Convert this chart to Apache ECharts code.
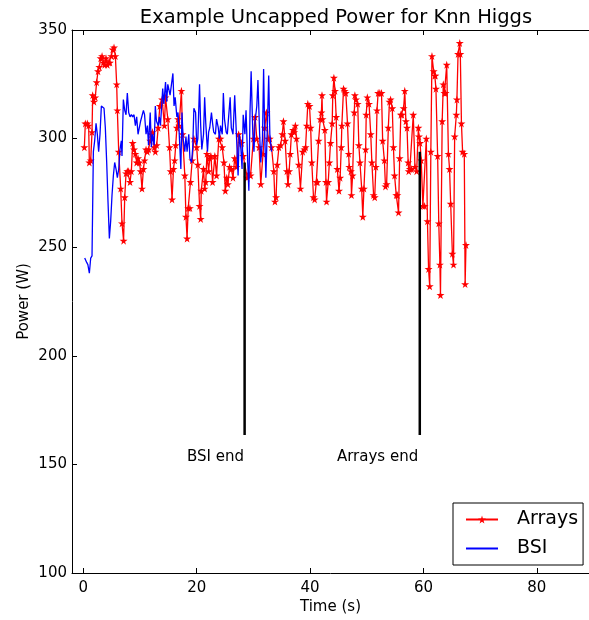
<!DOCTYPE html>
<html>
<head>
<meta charset="utf-8">
<script src="https://cdn.jsdelivr.net/npm/echarts@6.0.0/dist/echarts.min.js"></script>
<style>
  html, body { margin: 0; padding: 0; background: #fff; }
  #main { width: 589px; height: 620px; }
</style>
</head>
<body>
<div id="main"></div>
<script>
var xTicks = [0, 20, 40, 60, 80];
var yTicks = [100, 150, 200, 250, 300, 350];

// Arrays run: [time (s), power (W)]
var arraysData = [
    [0.18, 296], [0.35, 307], [0.7, 307], [0.94, 306], [1.06, 289], [1.3, 290], [1.53, 303], [1.65, 320],
    [1.88, 317], [2.1, 319], [2.35, 326], [2.59, 331], [2.82, 333], [3.06, 337], [3.3, 338], [3.53, 335],
    [3.77, 334], [4.0, 337], [4.24, 334], [4.47, 335], [4.7, 335], [4.94, 338], [5.18, 341], [5.41, 342],
    [5.65, 338], [5.88, 325], [6.0, 313], [6.24, 294], [6.59, 277], [6.82, 261], [7.1, 253], [7.3, 273],
    [7.53, 284], [7.76, 285], [8.0, 285], [8.24, 280], [8.47, 285], [8.7, 298], [8.94, 295], [9.18, 293],
    [9.41, 289], [9.65, 291], [9.88, 289], [10.1, 285], [10.35, 277], [10.6, 286], [10.8, 290], [11.06, 295],
    [11.3, 294], [11.5, 295], [11.8, 299], [12.0, 302], [12.2, 303], [12.5, 296], [12.7, 294], [12.94, 297],
    [13.2, 305], [13.5, 315], [13.9, 318], [14.3, 306], [14.5, 319], [14.9, 309], [15.2, 296], [15.4, 285],
    [15.65, 272], [15.9, 286], [16.1, 290], [16.3, 297], [16.5, 305], [16.7, 309], [16.9, 306], [17.3, 322],
    [17.5, 302], [17.9, 283], [18.1, 264], [18.3, 254], [18.5, 268], [18.8, 268], [18.9, 280], [19.2, 290],
    [19.5, 300], [20.0, 296], [20.2, 288], [20.5, 269], [20.7, 263], [20.8, 276], [21.2, 286], [21.4, 277],
    [21.6, 280], [21.8, 293], [22.1, 285], [22.3, 291], [22.5, 292], [22.8, 280], [23.2, 292], [23.5, 283],
    [23.9, 300], [24.2, 300], [24.5, 296], [24.8, 289], [25.05, 276], [25.3, 282], [25.5, 279], [25.8, 287],
    [26.1, 286], [26.4, 282], [26.7, 291], [27.0, 287], [27.4, 302], [27.9, 298], [28.2, 292], [28.9, 282],
    [29.2, 284], [29.5, 283], [30.0, 300], [30.3, 310], [30.6, 300], [31.0, 296], [31.3, 279], [31.7, 293],
    [32.0, 305], [32.3, 312], [32.6, 300], [32.9, 300], [33.2, 296], [33.6, 285], [33.8, 271], [34.0, 273],
    [34.2, 288], [34.5, 296], [34.8, 297], [35.1, 302], [35.3, 308], [35.6, 299], [35.9, 285], [36.1, 279],
    [36.3, 285], [36.5, 293], [36.7, 302], [37.0, 304], [37.2, 303], [37.4, 306], [37.6, 300], [38.0, 288],
    [38.3, 277], [38.7, 294], [39.0, 295], [39.2, 296], [39.4, 306], [39.6, 316], [39.9, 315], [40.1, 305],
    [40.3, 289], [40.6, 273], [40.8, 272], [41.1, 280], [41.3, 280], [41.5, 299], [41.8, 309], [42.0, 312],
    [42.1, 320], [42.2, 309], [42.6, 304], [42.8, 280], [42.9, 271], [43.2, 280], [43.4, 289], [43.6, 298],
    [43.9, 307], [44.0, 320], [44.2, 328], [44.4, 322], [44.6, 310], [44.8, 286], [45.1, 276], [45.3, 282],
    [45.5, 296], [45.6, 306], [45.9, 323], [46.1, 322], [46.3, 321], [46.6, 307], [46.8, 293], [46.9, 287],
    [47.2, 285], [47.3, 274], [47.5, 283], [47.8, 312], [47.9, 320], [48.1, 318], [48.4, 316], [48.6, 297],
    [48.8, 289], [49.1, 277], [49.3, 264], [49.5, 277], [49.8, 295], [49.9, 311], [50.1, 319], [50.4, 316],
    [50.7, 302], [50.9, 289], [51.2, 274], [51.4, 273], [51.6, 287], [51.8, 313], [52.0, 321], [52.3, 321],
    [52.6, 321], [52.8, 299], [53.1, 290], [53.3, 278], [53.5, 279], [53.8, 305], [54.0, 317], [54.2, 318],
    [54.5, 314], [54.7, 296], [54.9, 283], [55.2, 274], [55.4, 274], [55.6, 266], [55.8, 291], [56.0, 311],
    [56.2, 311], [56.5, 314], [56.7, 322], [56.9, 308], [57.1, 305], [57.3, 289], [57.4, 285], [57.6, 286],
    [57.9, 286], [58.2, 311], [58.5, 287], [58.8, 285], [59.1, 305], [59.2, 301], [59.4, 298], [59.6, 290],
    [59.9, 269], [60.2, 269], [60.5, 300], [60.7, 262], [60.9, 240], [61.1, 232], [61.3, 294], [61.5, 338],
    [61.8, 331], [62.0, 329], [62.1, 329], [62.2, 323], [62.5, 292], [62.7, 261], [62.9, 242], [63.0, 228],
    [63.3, 308], [63.5, 325], [63.7, 321], [63.9, 321], [64.1, 334], [64.4, 293], [64.6, 286], [64.8, 270],
    [65.1, 247], [65.3, 242], [65.5, 301], [65.8, 311], [65.9, 318], [66.1, 339], [66.4, 344], [66.5, 339],
    [66.7, 307], [66.9, 294], [67.2, 293], [67.35, 233], [67.5, 251]
];

// BSI run: [time (s), power (W)]
var bsiData = [
    [0.24, 245], [0.59, 243], [0.8, 242], [1.06, 238], [1.3, 245], [1.53, 246], [1.77, 294], [2.0, 299],
    [2.24, 307], [2.47, 302], [2.7, 294], [2.94, 302], [3.18, 315], [3.4, 315], [3.65, 314], [3.88, 305],
    [4.12, 289], [4.35, 271], [4.59, 254], [4.82, 262], [5.06, 274], [5.3, 283], [5.53, 289], [5.77, 286],
    [6.0, 282], [6.24, 286], [6.47, 295], [6.7, 299], [6.82, 292], [7.06, 318], [7.3, 313], [7.53, 311],
    [7.76, 321], [8.0, 312], [8.24, 310], [8.47, 311], [8.7, 310], [8.94, 311], [9.18, 306], [9.41, 310],
    [9.65, 302], [9.88, 302], [10.1, 308], [10.35, 308], [10.6, 313], [10.8, 311], [11.06, 302], [11.3, 306],
    [11.5, 297], [11.8, 312], [12.0, 296], [12.2, 302], [12.5, 297], [12.7, 315], [12.9, 308], [13.2, 306],
    [13.4, 310], [13.6, 306], [14.0, 323], [14.2, 316], [14.5, 326], [14.7, 317], [14.9, 325], [15.3, 320],
    [15.8, 330], [16.0, 315], [16.2, 319], [16.5, 310], [16.7, 312], [16.9, 303], [17.2, 286], [17.4, 312],
    [17.6, 300], [17.9, 294], [18.1, 301], [18.3, 294], [18.6, 302], [18.8, 291], [19.1, 289], [19.3, 296],
    [19.5, 314], [19.8, 312], [20.0, 297], [20.2, 300], [20.5, 325], [20.7, 306], [20.9, 295], [21.2, 302],
    [21.4, 319], [21.6, 307], [21.9, 294], [22.1, 303], [22.3, 305], [22.6, 312], [22.8, 307], [23.0, 303],
    [23.3, 302], [23.5, 309], [23.8, 305], [24.0, 300], [24.2, 306], [24.5, 302], [24.7, 321], [24.9, 309],
    [25.2, 303], [25.4, 302], [25.6, 309], [25.9, 319], [26.1, 305], [26.4, 302], [26.7, 320], [27.0, 302],
    [27.3, 283], [27.5, 302], [27.8, 295], [28.0, 286], [28.2, 311], [28.5, 302], [28.7, 313], [29.0, 289],
    [29.2, 276], [29.4, 312], [29.6, 331], [29.9, 302], [30.1, 294], [30.3, 308], [30.6, 315], [30.8, 327],
    [31.1, 302], [31.3, 289], [31.6, 300], [31.8, 332], [32.0, 302], [32.2, 282], [32.5, 309], [32.7, 329],
    [32.9, 302], [33.2, 294]
];

// end-of-run markers: time, top of the bar, bottom of the bar
var endTimes = [28.45, 59.35];
var endTops = [289, 294];
var endBottom = 163.5;
var endLabels = [[23.3, 153.5, 'BSI end'], [51.9, 153.5, 'Arrays end']];

var FONT = 'DejaVu Sans';
var STAR = 'path://M50,0 L61,35 L98,35 L68,57 L79,91 L50,70 L21,91 L32,57 L2,35 L39,35 Z';

var powerChart = {
    initChart: function () {
        var chart = echarts.init(document.getElementById('main'), null, {renderer: 'canvas'});

        var endSeries = endTimes.map(function (t, i) {
            return {
                name: 'end' + i,
                type: 'line',
                data: [[t, endBottom], [t, endTops[i]]],
                symbol: 'none',
                lineStyle: {color: '#000', width: 2.5},
                z: 5,
                silent: true
            };
        });

        var axisLineStyle = {onZero: false, lineStyle: {color: '#000', width: 1}};

        chart.setOption({
            animation: false,
            backgroundColor: '#fff',
            title: {
                text: 'Example Uncapped Power for Knn Higgs',
                left: 336,
                textAlign: 'center',
                top: 8,
                padding: 0,
                textStyle: {fontFamily: FONT, fontSize: 19.5, fontWeight: 'normal', color: '#000'}
            },
            legend: {
                data: [
                    {name: 'Arrays'},
                    {name: 'BSI', itemStyle: {opacity: 0}}
                ],
                orient: 'vertical',
                left: 453,
                top: 503,
                itemWidth: 32,
                itemHeight: 10,
                itemGap: 8,
                padding: [6, 5, 6, 12],
                borderColor: '#000',
                borderWidth: 1,
                borderRadius: 0,
                textStyle: {fontFamily: FONT, fontSize: 19, color: '#000', lineHeight: 21, padding: [0, 0, 0, 14]}
            },
            grid: {left: 72, top: 30, right: 0, height: 543, containLabel: false},
            xAxis: [{
                type: 'value',
                min: -2,
                max: 89.2,
                name: 'Time (s)',
                nameLocation: 'middle',
                nameGap: 27,
                nameMoveOverlap: false,
                nameTextStyle: {fontFamily: FONT, fontSize: 15, color: '#000'},
                axisLine: axisLineStyle,
                axisTick: {show: true, inside: true, length: 5, customValues: xTicks, lineStyle: {color: '#000'}},
                axisLabel: {customValues: xTicks, margin: 8, fontFamily: FONT, fontSize: 15, color: '#000'},
                splitLine: {show: false}
            }, {
                type: 'value',
                position: 'top',
                min: -2,
                max: 89.2,
                axisLine: axisLineStyle,
                axisTick: {show: true, inside: true, length: 5, customValues: xTicks, lineStyle: {color: '#000'}},
                axisLabel: {show: false},
                splitLine: {show: false}
            }],
            yAxis: {
                type: 'value',
                min: 100,
                max: 350,
                interval: 50,
                name: 'Power (W)',
                nameLocation: 'middle',
                nameGap: 40,
                nameMoveOverlap: false,
                nameTextStyle: {fontFamily: FONT, fontSize: 15, color: '#000'},
                axisLine: axisLineStyle,
                axisTick: {show: true, inside: true, length: 5, lineStyle: {color: '#000'}},
                axisLabel: {margin: 5, fontFamily: FONT, fontSize: 15, color: '#000'},
                splitLine: {show: false}
            },
            series: [{
                name: 'Arrays',
                type: 'line',
                data: arraysData,
                symbol: STAR,
                symbolSize: 8,
                showAllSymbol: true,
                itemStyle: {color: '#ff0000'},
                lineStyle: {color: '#ff0000', width: 1.3},
                z: 2
            }, {
                name: 'BSI',
                type: 'line',
                data: bsiData,
                symbol: 'none',
                itemStyle: {color: '#0000ff'},
                lineStyle: {color: '#0000ff', width: 1.3},
                z: 3
            }].concat(endSeries).concat([{
                name: 'labels',
                type: 'scatter',
                data: endLabels,
                symbolSize: 1,
                itemStyle: {opacity: 0},
                silent: true,
                z: 6,
                label: {
                    show: true,
                    position: 'inside',
                    formatter: function (p) { return p.data[2]; },
                    fontFamily: FONT,
                    fontSize: 15,
                    color: '#000',
                    textBorderWidth: 0,
                    opacity: 1
                }
            }])
        });
    }
};

powerChart.initChart();
</script>
</body>
</html>
